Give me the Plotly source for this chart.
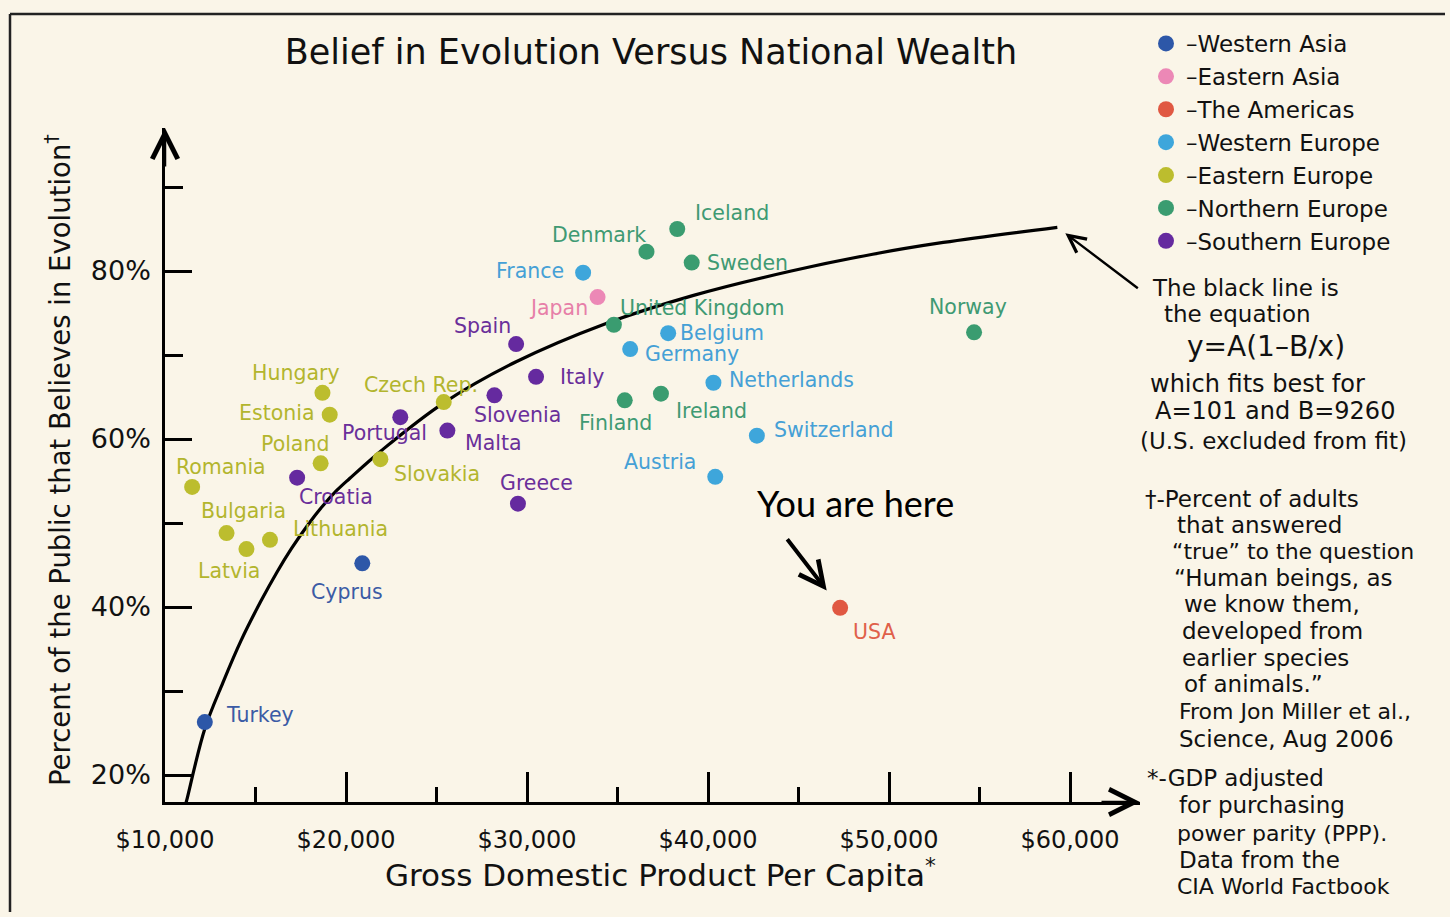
import plotly.graph_objects as go

# ---------------- data ----------------
region_order = ["Western Asia", "Eastern Asia", "The Americas", "Western Europe",
                "Eastern Europe", "Northern Europe", "Southern Europe"]

countries = ["Turkey", "Cyprus",
             "Japan",
             "USA",
             "France", "Belgium", "Germany", "Netherlands", "Switzerland", "Austria",
             "Romania", "Bulgaria", "Latvia", "Lithuania", "Poland", "Estonia", "Hungary", "Slovakia", "Czech Rep.",
             "United Kingdom", "Denmark", "Iceland", "Sweden", "Finland", "Ireland", "Norway",
             "Croatia", "Portugal", "Malta", "Slovenia", "Greece", "Spain", "Italy"]
regions = ["Western Asia"] * 2 + ["Eastern Asia"] + ["The Americas"] + ["Western Europe"] * 6 + \
          ["Eastern Europe"] * 9 + ["Northern Europe"] * 7 + ["Southern Europe"] * 7
gdp = [12200, 20900,
       33900,
       47300,
       33100, 37800, 35700, 40300, 42700, 40400,
       11500, 13400, 14500, 15800, 18600, 19100, 18700, 21900, 25400,
       34800, 36600, 38300, 39100, 35400, 37400, 54700,
       17300, 23000, 25600, 28200, 29500, 29400, 30500]
pct = [26.3, 45.2,
       76.9,
       39.9,
       79.8, 72.6, 70.7, 66.7, 60.4, 55.5,
       54.3, 48.8, 46.9, 48.0, 57.1, 62.9, 65.5, 57.6, 64.4,
       73.6, 82.3, 85.0, 81.0, 64.6, 65.4, 72.7,
       55.4, 62.6, 61.0, 65.2, 52.3, 71.3, 67.4]

# black fit line
curve_gdp = [11100, 11200, 12200, 13200, 14200, 15300, 16200, 17000, 17900, 18700, 19500, 20200, 22000,
             25400, 29400, 34300, 39200, 44600, 49100, 53000, 59300]
curve_pct = [16.2, 17.0, 25.5, 31.0, 36.0, 40.7, 44.2, 47.0, 49.8, 52.0, 53.9, 55.3, 58.7,
             64.3, 69.2, 73.7, 77.1, 80.0, 82.0, 83.4, 85.2]

x_tick_vals = [10000, 20000, 30000, 40000, 50000, 60000]
x_tick_text = ["$10,000", "$20,000", "$30,000", "$40,000", "$50,000", "$60,000"]
y_tick_vals = [20, 40, 60, 80]
y_tick_text = ["20%", "40%", "60%", "80%"]

# ---------------- styles ----------------
marker_colors = {"Western Asia": "#2d57a8", "Eastern Asia": "#ec88b6", "The Americas": "#e05842",
                 "Western Europe": "#3ea6db", "Eastern Europe": "#bcbd2e",
                 "Northern Europe": "#3a9c70", "Southern Europe": "#652a9f"}
label_colors = {"Western Asia": "#3b5ba5", "Eastern Asia": "#e77fa8", "The Americas": "#e0604a",
                "Western Europe": "#45a0d6", "Eastern Europe": "#b3b52e",
                "Northern Europe": "#3f9a73", "Southern Europe": "#6a2f9a"}
# label offsets in screen pixels (dx right, dy down)
label_offsets = {"Turkey": (55, -7), "Cyprus": (-15, 29), "Japan": (-39, 11), "USA": (34, 24),
                 "France": (-53, -2), "Belgium": (54, 0), "Germany": (62, 5), "Netherlands": (78, -3),
                 "Switzerland": (77, -6), "Austria": (-55, -15),
                 "Romania": (29, -20), "Bulgaria": (17, -22), "Latvia": (-17, 22), "Lithuania": (71, -11),
                 "Poland": (-26, -19), "Estonia": (-53, -2), "Hungary": (-26, -20), "Slovakia": (57, 15),
                 "Czech Rep.": (-23, -17),
                 "United Kingdom": (89, -17), "Denmark": (-47, -17), "Iceland": (55, -16), "Sweden": (56, 0),
                 "Finland": (-9, 23), "Ireland": (51, 17), "Norway": (-6, -25),
                 "Croatia": (39, 19), "Portugal": (-16, 16), "Malta": (46, 12), "Slovenia": (23, 20),
                 "Greece": (19, -21), "Spain": (-34, -18), "Italy": (46, 0)}

HAND = "DejaVu Sans"
BG = "#faf5e8"
W, H = 1450, 917
PL, PR, PT, PB = 165, 1140, 128, 802  # plot area in pixels
X0 = 10000
X1 = X0 + (PR - PL) / 18.1 * 1000
Y0 = 20 - (PB - 775) / 8.4
Y1 = 20 + (775 - PT) / 8.4


def px(xp):
    return (xp - PL) / (PR - PL)


def py(yp):
    return (PB - yp) / (PB - PT)


fig = go.Figure()

fig.add_trace(go.Scatter(x=curve_gdp, y=curve_pct, mode="lines",
                         line=dict(color="black", width=3.2, shape="spline", smoothing=1.0),
                         showlegend=False, hoverinfo="skip"))

for reg in region_order:
    xs = [g for g, r in zip(gdp, regions) if r == reg]
    ys = [p for p, r in zip(pct, regions) if r == reg]
    names = [c for c, r in zip(countries, regions) if r == reg]
    fig.add_trace(go.Scatter(x=xs, y=ys, mode="markers", name="–" + reg, text=names,
                             marker=dict(size=16, color=marker_colors[reg]),
                             hovertemplate="%{text}<br>$%{x:,}<br>%{y}%<extra></extra>"))

annotations = []
for c, r, g, p in zip(countries, regions, gdp, pct):
    dx, dy = label_offsets[c]
    annotations.append(dict(x=g, y=p, xref="x", yref="y", text=c, showarrow=False,
                            xshift=dx, yshift=-dy, xanchor="center", yanchor="middle",
                            font=dict(family=HAND, size=20.5, color=label_colors[r])))

usa_i = countries.index("USA")
# "You are here"
annotations.append(dict(x=gdp[usa_i], y=pct[usa_i], xref="x", yref="y", text="You are here", showarrow=False,
                        xshift=15, yshift=105, font=dict(family="Lato", size=36, color="black")))
annotations.append(dict(x=gdp[usa_i], y=pct[usa_i], xref="x", yref="y", text="", showarrow=True,
                        ax=-54, ay=-70, standoff=22, arrowhead=5, arrowsize=1.2, arrowwidth=4,
                        arrowcolor="black"))
# pointer to the end of the curve
annotations.append(dict(x=curve_gdp[-1], y=curve_pct[-1], xref="x", yref="y", text="", showarrow=True,
                        ax=82, ay=62, standoff=10, arrowhead=5, arrowsize=1.4, arrowwidth=2.4,
                        arrowcolor="black"))
# axis arrow heads
annotations.append(dict(x=0, y=1, xref="paper", yref="paper", text="", showarrow=True,
                        ax=0, ay=40, arrowhead=5, arrowsize=2.0, arrowwidth=2.5, arrowcolor="black"))
annotations.append(dict(x=1, y=0, xref="paper", yref="paper", text="", showarrow=True,
                        ax=-40, ay=0, arrowhead=5, arrowsize=2.0, arrowwidth=2.5, arrowcolor="black"))

# axis titles
annotations.append(dict(x=px(58), y=py(460), xref="paper", yref="paper", textangle=-90, showarrow=False,
                        text="Percent of the Public that Believes in Evolution<sup>†</sup>",
                        xanchor="center", yanchor="middle", font=dict(family=HAND, size=27.5, color="#111")))
annotations.append(dict(x=px(660), y=py(873), xref="paper", yref="paper", showarrow=False,
                        text="Gross Domestic Product Per Capita<sup>*</sup>",
                        xanchor="center", yanchor="middle", font=dict(family=HAND, size=31, color="#111")))

# right-hand notes
notes = [
    ("The black line is", 1150, 288, 23),
    ("the equation", 1162, 314, 23),
    ("y=A(1–B/x)", 1185, 346, 28),
    ("which fits best for", 1148, 384, 24),
    ("A=101 and B=9260", 1153, 411, 24),
    ("(U.S. excluded from fit)", 1138, 441, 23),
    ("†-Percent of adults", 1143, 499, 23),
    ("that answered", 1175, 525, 23),
    ("“true” to the question", 1170, 551, 22),
    ("“Human beings, as", 1172, 578, 23),
    ("we know them,", 1182, 604, 23),
    ("developed from", 1180, 631, 23),
    ("earlier species", 1180, 658, 23),
    ("of animals.”", 1182, 684, 23),
    ("From Jon Miller et al.,", 1177, 711, 22),
    ("Science, Aug 2006", 1177, 739, 23),
    ("*-GDP adjusted", 1145, 778, 23),
    ("for purchasing", 1177, 805, 23),
    ("power parity (PPP).", 1175, 833, 22),
    ("Data from the", 1177, 860, 23),
    ("CIA World Factbook", 1175, 886, 22),
]
for t, xx, yy, fs in notes:
    annotations.append(dict(x=px(xx), y=py(yy), xref="paper", yref="paper", text=t, showarrow=False,
                            xanchor="left", yanchor="middle", font=dict(family=HAND, size=fs, color="#111")))

shapes = [
    dict(type="line", xref="paper", yref="paper", x0=px(10), x1=px(10), y0=py(14), y1=py(912),
         line=dict(color="#222", width=2.5)),
    dict(type="line", xref="paper", yref="paper", x0=px(10), x1=px(1445), y0=py(14), y1=py(14),
         line=dict(color="#222", width=2.5)),
]

fig.update_layout(
    width=W, height=H,
    margin=dict(l=PL, r=W - PR, t=PT, b=H - PB, pad=0),
    paper_bgcolor=BG, plot_bgcolor="rgba(0,0,0,0)",
    title=dict(text="Belief in Evolution Versus National Wealth", x=651 / W, xanchor="center",
               y=1 - 52 / H, yanchor="middle", font=dict(family=HAND, size=35, color="#111")),
    font=dict(family=HAND, color="#111"),
    showlegend=True,
    legend=dict(x=px(1146), y=py(22), xanchor="left", yanchor="top", bgcolor="rgba(0,0,0,0)",
                font=dict(family=HAND, size=23, color="#111"), itemsizing="trace",
                tracegroupgap=0, itemwidth=30),
    annotations=annotations,
    shapes=shapes,
    xaxis=dict(range=[X0, X1], showgrid=False, zeroline=False, showline=True, linecolor="black",
               linewidth=2.5, ticks="inside", ticklen=30, tickwidth=2.5, tickcolor="black",
               tickmode="array", tickvals=x_tick_vals, ticktext=x_tick_text,
               tickfont=dict(family=HAND, size=24, color="#111"), ticklabelstandoff=14,
               minor=dict(ticks="inside", ticklen=15, tickwidth=2.5, tickcolor="black", dtick=10000, tick0=15000)),
    yaxis=dict(range=[Y0, Y1], showgrid=False, zeroline=False, showline=True, linecolor="black",
               linewidth=2.5, ticks="inside", ticklen=27, tickwidth=2.5, tickcolor="black",
               tickmode="array", tickvals=y_tick_vals, ticktext=y_tick_text,
               tickfont=dict(family=HAND, size=27, color="#111"), ticklabelstandoff=6,
               minor=dict(ticks="inside", ticklen=18, tickwidth=2.5, tickcolor="black", dtick=10, tick0=30)),
)

fig.write_html("out.html", config={"displayModeBar": False},
               post_script="document.body.style.margin='0';document.body.style.background='" + BG + "';")
